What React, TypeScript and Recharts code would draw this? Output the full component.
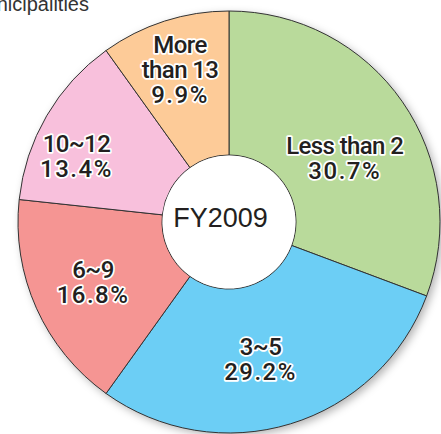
import React from 'react'
import { PieChart, Pie, Cell, Label } from 'recharts'

const categories = ['Less than 2', '3~5', '6~9', '10~12', 'More than 13']
const shares = [30.7, 29.2, 16.8, 13.4, 9.9]
const colors = ['#b9da9b', '#6ccef5', '#f59593', '#f8c0dc', '#fdcb98']
const centerTitle = 'FY2009'
const cornerText = 'Number of municipalities'

const data = categories.map((name, i) => ({ name, value: shares[i] }))

// label placement tweaks per slice (radius from centre, angle nudge)
const labelRadius = [132, 141, 149, 166, 160]
const labelNudge = [-6, -4, 0, 7, 0]

const RAD = Math.PI / 180

const SliceLabel = (props: any) => {
  const { cx, cy, midAngle, index, name, value } = props
  const a = (midAngle + labelNudge[index]) * RAD
  const x = cx + labelRadius[index] * Math.cos(a)
  const y = cy - labelRadius[index] * Math.sin(a)
  const lines = name === 'More than 13' ? ['More', 'than 13'] : [name]
  lines.push(`${value.toFixed(1)}%`)
  const lh = 25
  const top = y - ((lines.length - 1) * lh) / 2
  return (
    <text
      x={x}
      y={top}
      textAnchor="middle"
      dominantBaseline="central"
      fill="#231f20"
      stroke="#fff"
      strokeWidth={3.5}
      strokeLinejoin="round"
      paintOrder="stroke"
      style={{ fontFamily: 'Roboto, "Liberation Sans", sans-serif', fontSize: 24, fontWeight: 500 }}
    >
      {lines.map((l, k) => (
        <tspan key={k} x={x} y={top + k * lh} letterSpacing={k === lines.length - 1 ? 1.5 : -0.6}>
          {l}
        </tspan>
      ))}
    </text>
  )
}

export default function App() {
  return (
    <div style={{ position: 'absolute', left: 0, top: 0, width: 441, height: 434, overflow: 'hidden', background: '#fff' }}>
      <div
        style={{
          position: 'absolute',
          left: -211,
          top: -7,
          width: 300,
          textAlign: 'right',
          fontFamily: '"Liberation Sans", Arial, sans-serif',
          fontSize: 20,
          lineHeight: '22px',
          color: '#333',
          whiteSpace: 'nowrap',
        }}
      >
        {cornerText}
      </div>
      <PieChart width={441} height={434} margin={{ top: 0, right: 0, bottom: 0, left: 0 }} style={{ position: 'absolute', left: 0, top: 0 }}>
        <defs>
          <filter id="pieShadow" x="-20%" y="-20%" width="140%" height="140%">
            <feGaussianBlur stdDeviation="4" />
          </filter>
        </defs>
        <Pie
          data={[{ value: 1 }]}
          dataKey="value"
          cx={232}
          cy={225}
          outerRadius={211}
          startAngle={90}
          endAngle={-270}
          fill="#000"
          fillOpacity={0.3}
          stroke="none"
          filter="url(#pieShadow)"
          isAnimationActive={false}
        />
        <Pie
          data={data}
          dataKey="value"
          nameKey="name"
          cx={229}
          cy={222}
          innerRadius={67}
          outerRadius={211}
          startAngle={90}
          endAngle={-270}
          stroke="#333"
          strokeWidth={1}
          labelLine={false}
          label={SliceLabel}
          isAnimationActive={false}
        >
          {data.map((d, i) => (
            <Cell key={d.name} fill={colors[i]} />
          ))}
        </Pie>
        <Pie
          data={[{ value: 1 }]}
          dataKey="value"
          cx={229}
          cy={222}
          outerRadius={66.5}
          startAngle={90}
          endAngle={-270}
          fill="#fff"
          stroke="none"
          isAnimationActive={false}
        >
          <Label
            value={centerTitle}
            position="center"
            fill="#231f20"
            style={{ fontFamily: '"Liberation Sans", Arial, sans-serif', fontSize: 27 }}
          />
        </Pie>
      </PieChart>
    </div>
  )
}
